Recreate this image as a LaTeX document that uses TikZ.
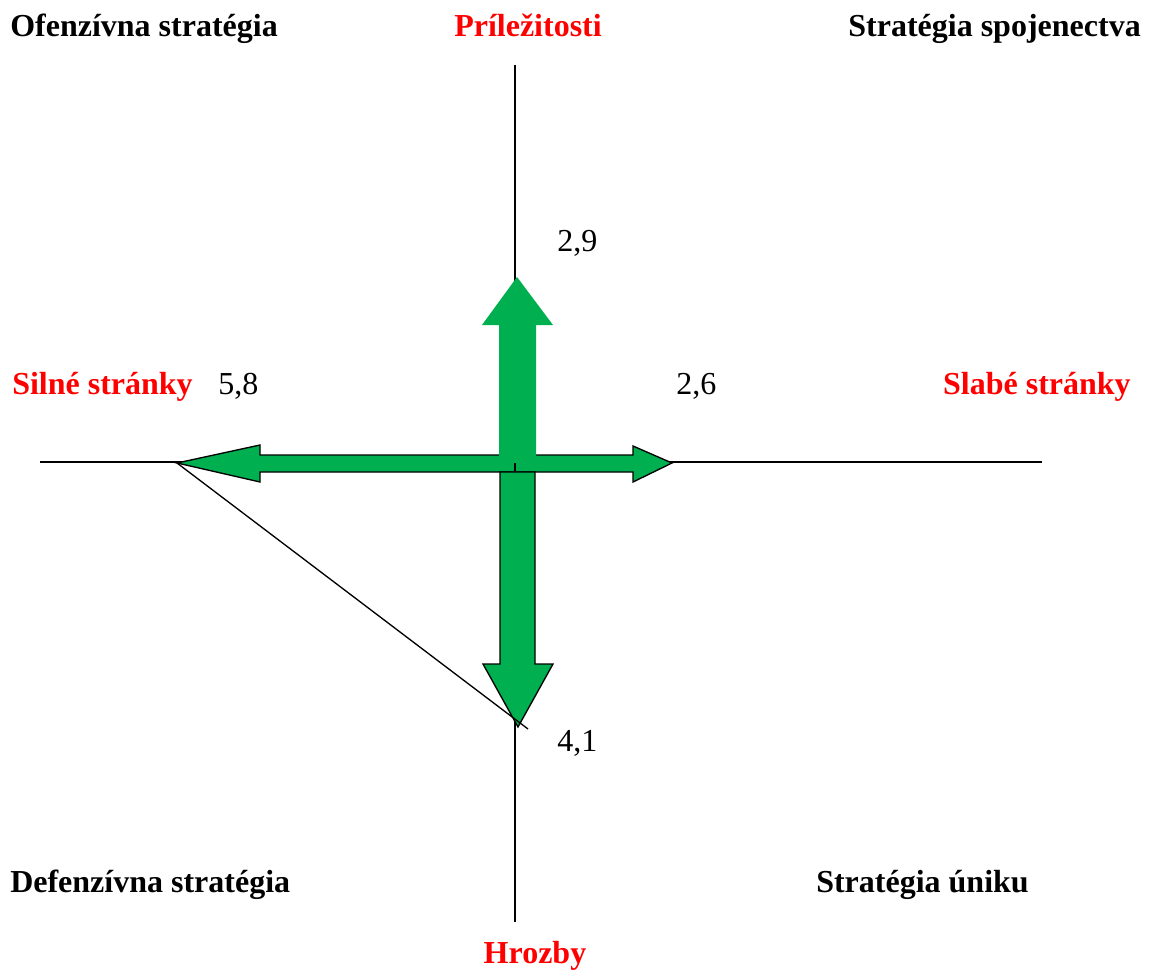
\documentclass[tikz,border=0pt]{standalone}
\usepackage{fontspec}
\setmainfont{Liberation Serif}
\definecolor{arrgreen}{RGB}{0,176,80}
\definecolor{lblred}{RGB}{255,0,0}
\begin{document}
\begin{tikzpicture}[x=0.75pt,y=-0.75pt,
  axis/.style={black,line width=1pt},
  blk/.style={font=\bfseries\fontsize{24}{28}\selectfont,inner sep=0pt},
  redlbl/.style={blk,text=lblred},
  num/.style={font=\fontsize{24}{28}\selectfont,inner sep=0pt},
  arrfill/.style={fill=arrgreen},
  arrline/.style={draw=black,line width=1pt,line join=miter}]
\useasboundingbox (0,0) rectangle (1153,970);
% axes
\coordinate (vtop) at (515,65);
\coordinate (vbot) at (515,922);
\coordinate (hleft) at (40,462);
\coordinate (hright) at (1042,462);
\coordinate (c) at (515,462);
\draw[axis] (vtop) -- (vbot);
\draw[axis] (hleft) -- (hright);
% horizontal double arrow
\coordinate (ltip) at (177,463);
\coordinate (rtip) at (672,463);
\filldraw[arrfill,arrline] (ltip) -- (260,445) -- (260,455) -- (633,455) -- (633,446) -- (rtip) -- (633,482) -- (633,472) -- (260,472) -- (260,482) -- cycle;
% up arrow
\coordinate (utip) at (517,277);
\fill[arrgreen] (499,456) -- (499,325) -- (482,325) -- (utip) -- (553,325) -- (536,325) -- (536,456) -- cycle;
% down arrow
\coordinate (dtip) at (518,727);
\filldraw[arrfill,arrline] (500,472) -- (535,472) -- (535,664) -- (553,664) -- (dtip) -- (483,664) -- (500,664) -- cycle;
\draw[axis] (515,463) -- (515,472);
% triangle line
\coordinate (tend) at (528,729);
\draw[axis] (ltip) -- (tend);
% corner labels
\node[blk,anchor=base west] (ofen) at (10,37) {Ofenzívna stratégia};
\node[blk,anchor=base east] (spoj) at (1141,37) {Stratégia spojenectva};
\node[blk,anchor=base west] (def) at (10,892) {Defenzívna stratégia};
\node[blk,anchor=base west] (unik) at (816,892) {Stratégia úniku};
% red labels
\node[redlbl,anchor=base] (pril) at (528,37) {Príležitosti};
\node[redlbl,anchor=base] (hroz) at (535,963) {Hrozby};
\node[redlbl,anchor=base west] (siln) at (12,394) {Silné stránky};
\node[redlbl,anchor=base east] (slab) at (1131,394) {Slabé stránky};
% numbers
\node[num,anchor=base west] (n29) at (557,251) {2,9};
\node[num,anchor=base west] (n58) at (218,394) {5,8};
\node[num,anchor=base west] (n26) at (676,394) {2,6};
\node[num,anchor=base west] (n41) at (557,751) {4,1};
\end{tikzpicture}
\end{document}
